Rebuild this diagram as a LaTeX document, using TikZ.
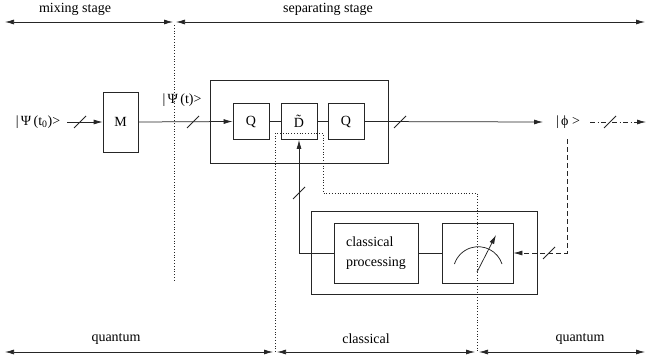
\documentclass[tikz,border=0pt]{standalone}
\usepackage{fontspec}
\setmainfont{Liberation Serif}
\usetikzlibrary{arrows.meta}
\begin{document}
\begin{tikzpicture}[x=1pt,y=-1pt,
  every node/.style={font=\fontsize{14}{16}\selectfont},
  ln/.style={line width=0.75pt, draw=black!85},
  blk/.style={ln, draw, inner sep=0pt, minimum width=#1},
  tip/.style={-{Latex[length=9pt,width=5pt]}},
  dtip/.style={{Latex[length=9pt,width=5pt]}-{Latex[length=9pt,width=5pt]}},
  dots/.style={line width=0.8pt, dotted, draw=black!85},
  dsh/.style={ln, dash pattern=on 5pt off 3pt},
  dshdot/.style={ln, dash pattern=on 5pt off 2.5pt on 1pt off 2.5pt}]
\useasboundingbox (0,0) rectangle (647,361);
\newcommand{\slashmark}[2]{\draw[ln] (#1-6,#2+6) -- (#1+6,#2-6);}
% stage arrows
\coordinate (t0) at (5,22); \coordinate (t1) at (173,22);
\coordinate (t2) at (176,22); \coordinate (t3) at (645,22);
\draw[ln,dtip] (t0) -- (t1);
\draw[ln,dtip] (t2) -- (t3);
\node (mix) at (75,9) {mixing stage};
\node (sep) at (328,9) {separating stage};
% bottom arrows
\coordinate (b0) at (5,352); \coordinate (b1) at (273,352);
\coordinate (b2) at (277,352); \coordinate (b3) at (475,352);
\coordinate (b4) at (479,352); \coordinate (b5) at (645,352);
\draw[ln,dtip] (b0) -- (b1);
\draw[ln,dtip] (b2) -- (b3);
\draw[ln,dtip] (b4) -- (b5);
\node (q1) at (116,339) {quantum};
\node (cl) at (366,339) {classical};
\node (q2) at (580,339) {quantum};
% boxes
\node[blk=35pt, minimum height=60pt] (M) at (120.5,122) {M};
\node[blk=178pt, minimum height=83pt] (big) at (299,121.5) {};
\node[blk=36pt, minimum height=36pt] (Q1) at (251,121.5) {Q};
\node[blk=36pt, minimum height=36pt] (D) at (299,121.5) {\raisebox{-3pt}{\~{D}}};
\node[blk=36pt, minimum height=36pt] (Q2) at (346,121.5) {Q};
\node[blk=226pt, minimum height=83pt] (low) at (424,252.5) {};
\node[blk=84pt, minimum height=60pt, align=left] (CP) at (376,253) {classical\\[4pt]processing};
\node[blk=71pt, minimum height=60pt] (meter) at (477.5,253) {};
% labels
\node (psi0) at (38,122) {|\,Ψ\,(t\textsubscript{0})>};
\node (psit) at (182,100) {|\,Ψ\,(t)>};
\node (phi) at (568,122) {|\,ϕ >};
% main line
\coordinate (in) at (67,122);
\draw[ln,tip] (in) -- (M.west);
\draw[ln,tip] (M.east) -- (Q1.west);
\draw[ln] (Q1.east) -- (D.west);
\draw[ln] (D.east) -- (Q2.west);
\coordinate (out) at (543,122);
\draw[ln,tip] (Q2.east) -- (out);
\coordinate (o1) at (590,122); \coordinate (o2) at (646,122);
\draw[dshdot,tip] (o1) -- (o2);
% measurement feed
\coordinate (m0) at (567,139); \coordinate (m1) at (567,253);
\draw[dsh,tip] (m0) -- (m1) -- (meter.east);
% classical feedback
\draw[ln,tip] (CP.west) -| (D.south);
\draw[ln] (CP.east) -- (meter.west);
% meter
\coordinate (mc) at (477,272);
\draw[ln] (502,264) arc[start angle=-18, end angle=-162, radius=25];
\coordinate (mt) at (496,235);
\draw[ln,tip] (mc) -- (mt);
% slashes
\slashmark{80}{122}
\slashmark{193}{122}
\slashmark{400}{122}
\slashmark{610}{122}
\slashmark{549}{253}
\slashmark{299}{193}
% dotted boundaries
\coordinate (d0) at (174,25); \coordinate (d1) at (174,280);
\draw[dots] (d0) -- (d1);
\draw[dots] (275,352) -- (275,133) -- (323,133) -- (323,193) -- (477,193) -- (477,352);
\end{tikzpicture}
\end{document}
